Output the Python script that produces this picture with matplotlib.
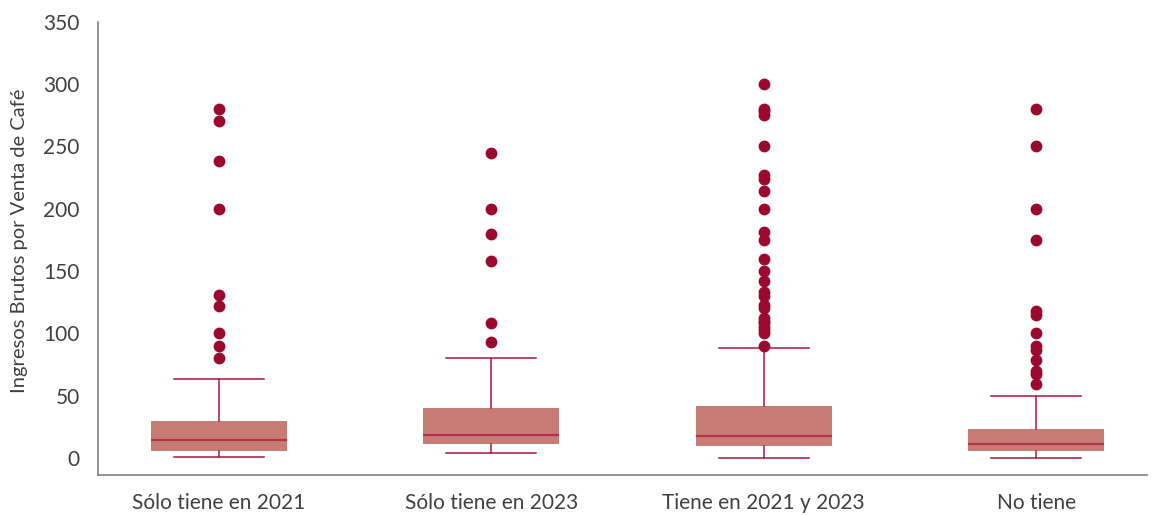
import matplotlib.pyplot as plt

plt.rcParams['font.family'] = ['Lato', 'DejaVu Sans']

categories = ["Sólo tiene en 2021", "Sólo tiene en 2023", "Tiene en 2021 y 2023", "No tiene"]

# box-plot summary per group (ingresos brutos)
whislo = [1, 4, 0, 0]
q1 = [6, 11, 10, 5.3]
med = [14.6, 18.4, 17.3, 10.9]
q3 = [29.8, 40.5, 41.8, 23.4]
whishi = [63, 80, 88, 50]

fliers = [
    [280, 270, 238, 200, 131, 122, 100, 90, 80],
    [245, 200, 180, 158, 108, 93],
    [300, 280, 278, 275, 250, 227, 224, 214, 200, 181, 175, 160, 150, 142,
     133, 130, 123, 120, 112, 110, 108, 105, 103, 100, 90],
    [280, 250, 200, 175, 118, 115, 100, 90, 87, 79, 70, 67, 59],
]

box_color = "#C97C75"
median_color = "#B23248"
line_color = "#A8173F"
dot_color = "#9B0A2E"
text_color = "#404040"

stats = []
for i, name in enumerate(categories):
    stats.append({
        "label": name,
        "whislo": whislo[i], "q1": q1[i], "med": med[i],
        "q3": q3[i], "whishi": whishi[i], "fliers": fliers[i],
    })

fig = plt.figure(figsize=(11.52, 5.15), dpi=100)
ax = fig.add_axes([0.085, 0.078, 0.911, 0.88])

ax.bxp(
    stats, positions=range(len(categories)), widths=0.5, capwidths=0.33,
    patch_artist=True, showfliers=True,
    boxprops=dict(facecolor=box_color, edgecolor="none", linewidth=0),
    medianprops=dict(color=median_color, linewidth=1.6),
    whiskerprops=dict(color=line_color, linewidth=1.1),
    capprops=dict(color=line_color, linewidth=1.1),
    flierprops=dict(marker="o", markersize=7.5, markerfacecolor=dot_color,
                    markeredgecolor=dot_color, linestyle="none"),
)

ax.set_xlim(-0.444, 3.408)
ax.set_ylim(-13.5, 350)
ax.set_yticks(range(0, 351, 50))
ax.set_xticks(range(len(categories)))
ax.set_xticklabels(categories)
ax.tick_params(axis="both", length=0, labelsize=15, colors=text_color)
ax.tick_params(axis="x", pad=13)
ax.tick_params(axis="y", pad=13)
ax.set_ylabel("Ingresos Brutos por Venta de Café", fontsize=14.5, color=text_color)
ax.yaxis.set_label_coords(-0.067, 0.517)

for side in ("top", "right"):
    ax.spines[side].set_visible(False)
for side in ("left", "bottom"):
    ax.spines[side].set_color("#808080")
    ax.spines[side].set_linewidth(1.2)

fig.savefig("out.png", dpi=100)
